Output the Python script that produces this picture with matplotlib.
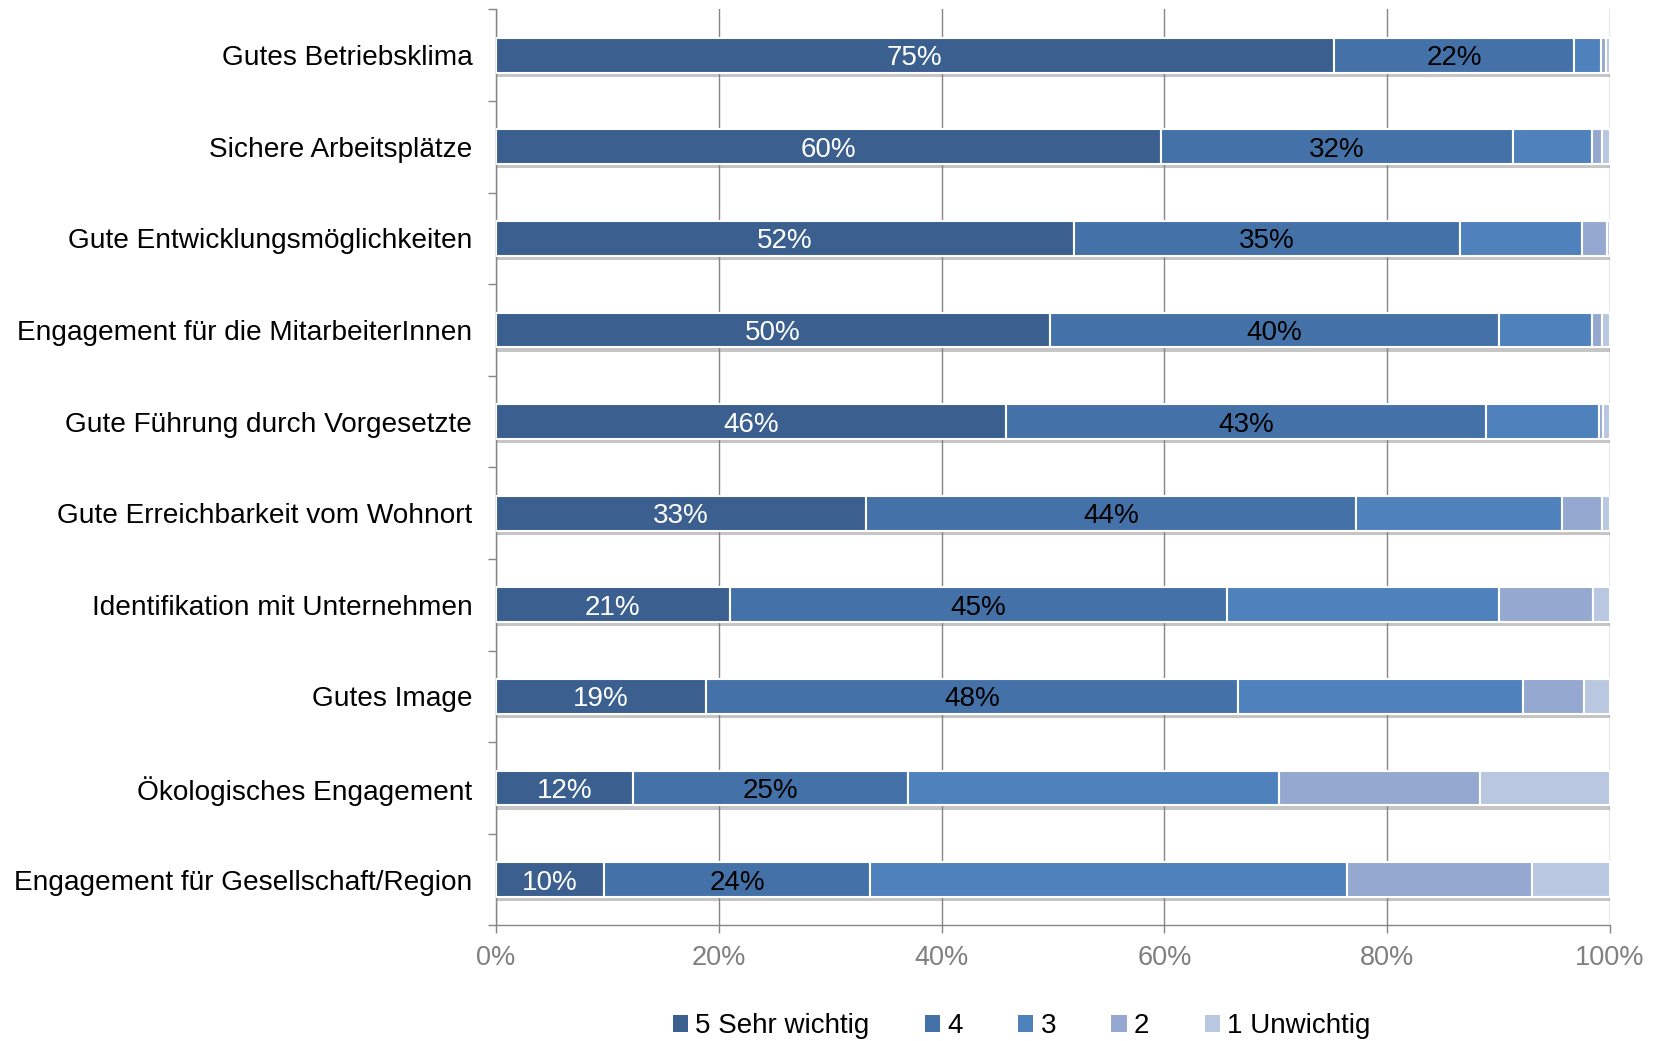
import matplotlib
matplotlib.use("Agg")
import matplotlib.pyplot as plt
import matplotlib.patheffects as pe
from matplotlib.patches import Patch
import numpy as np

plt.rcParams['font.family'] = ['Liberation Sans', 'DejaVu Sans']

categories = [
    "Gutes Betriebsklima",
    "Sichere Arbeitsplätze",
    "Gute Entwicklungsmöglichkeiten",
    "Engagement für die MitarbeiterInnen",
    "Gute Führung durch Vorgesetzte",
    "Gute Erreichbarkeit vom Wohnort",
    "Identifikation mit Unternehmen",
    "Gutes Image",
    "Ökologisches Engagement",
    "Engagement für Gesellschaft/Region",
]
series_names = ["5 Sehr wichtig", "4", "3", "2", "1 Unwichtig"]
s5 = [75.2, 59.7, 51.9, 49.7, 45.8, 33.2, 21.0, 18.9, 12.3, 9.7]
s4 = [21.6, 31.6, 34.6, 40.3, 43.1, 44.0, 44.6, 47.7, 24.7, 23.9]
s3 = [2.4, 7.1, 11.0, 8.4, 10.1, 18.5, 24.4, 25.6, 33.3, 42.8]
s2 = [0.4, 0.9, 2.2, 0.9, 0.4, 3.6, 8.5, 5.5, 18.0, 16.6]
s1 = [0.4, 0.7, 0.3, 0.7, 0.6, 0.7, 1.5, 2.3, 11.7, 7.0]
colors = ["#3B5F8E", "#4472A8", "#4F81BD", "#95A9D0", "#BAC7E1"]
label_colors = ["white", "black", None, None, None]
xticks = [0, 20, 40, 60, 80, 100]
xticklabels = ["0%", "20%", "40%", "60%", "80%", "100%"]

data = np.array([s5, s4, s3, s2, s1])
data = data / data.sum(axis=0) * 100

fig = plt.figure(figsize=(16.53, 10.41), dpi=100)
ax = fig.add_axes([0.300, 0.111, 0.674, 0.880])

y = np.arange(len(categories))
left = np.zeros(len(categories))
shadow = [pe.SimplePatchShadow(offset=(1, -3), shadow_rgbFace="#7f7f7f", alpha=0.45), pe.Normal()]
for i, (vals, col) in enumerate(zip(data, colors)):
    bars = ax.barh(y, vals, left=left, height=0.38, color=col, edgecolor="white",
                   linewidth=1.5, zorder=3, label=series_names[i])
    for b in bars:
        b.set_path_effects(shadow)
    if label_colors[i] is not None:
        raw = [s5, s4][i]
        for yy, l, v, r in zip(y, left, vals, raw):
            ax.text(l + v / 2, yy, f"{r:.0f}%", ha="center", va="center_baseline",
                    color=label_colors[i], fontsize=20, zorder=5)
    left = left + vals

ax.set_xlim(0, 100)
ax.set_ylim(len(categories) - 0.5, -0.5)
ax.set_xticks(xticks)
ax.set_xticklabels(xticklabels)
ax.set_yticks(y)
ax.set_yticklabels(categories)
ax.set_yticks(np.arange(len(categories) + 1) - 0.5, minor=True)

ax.tick_params(axis="y", which="major", length=0, pad=17, labelsize=20.2, labelcolor="black")
ax.tick_params(axis="y", which="minor", length=6, color="#868686", width=1)
ax.tick_params(axis="x", which="major", length=6, color="#868686", width=1, pad=8,
               labelsize=19.5, labelcolor="#7f7f7f")

ax.grid(axis="x", color="#868686", linewidth=1, zorder=0)
ax.set_axisbelow(True)
for side in ["top", "right"]:
    ax.spines[side].set_visible(False)
for side in ["left", "bottom"]:
    ax.spines[side].set_color("#868686")
    ax.spines[side].set_linewidth(1)

handles = [Patch(facecolor=c, edgecolor="none") for c in colors]
fig.legend(handles, series_names, loc="center", bbox_to_anchor=(0.618, 0.014), ncol=5,
           frameon=False, fontsize=20, handlelength=0.55, handleheight=0.55,
           handletextpad=0.25, columnspacing=2.0)

fig.savefig("out.png", dpi=100)
